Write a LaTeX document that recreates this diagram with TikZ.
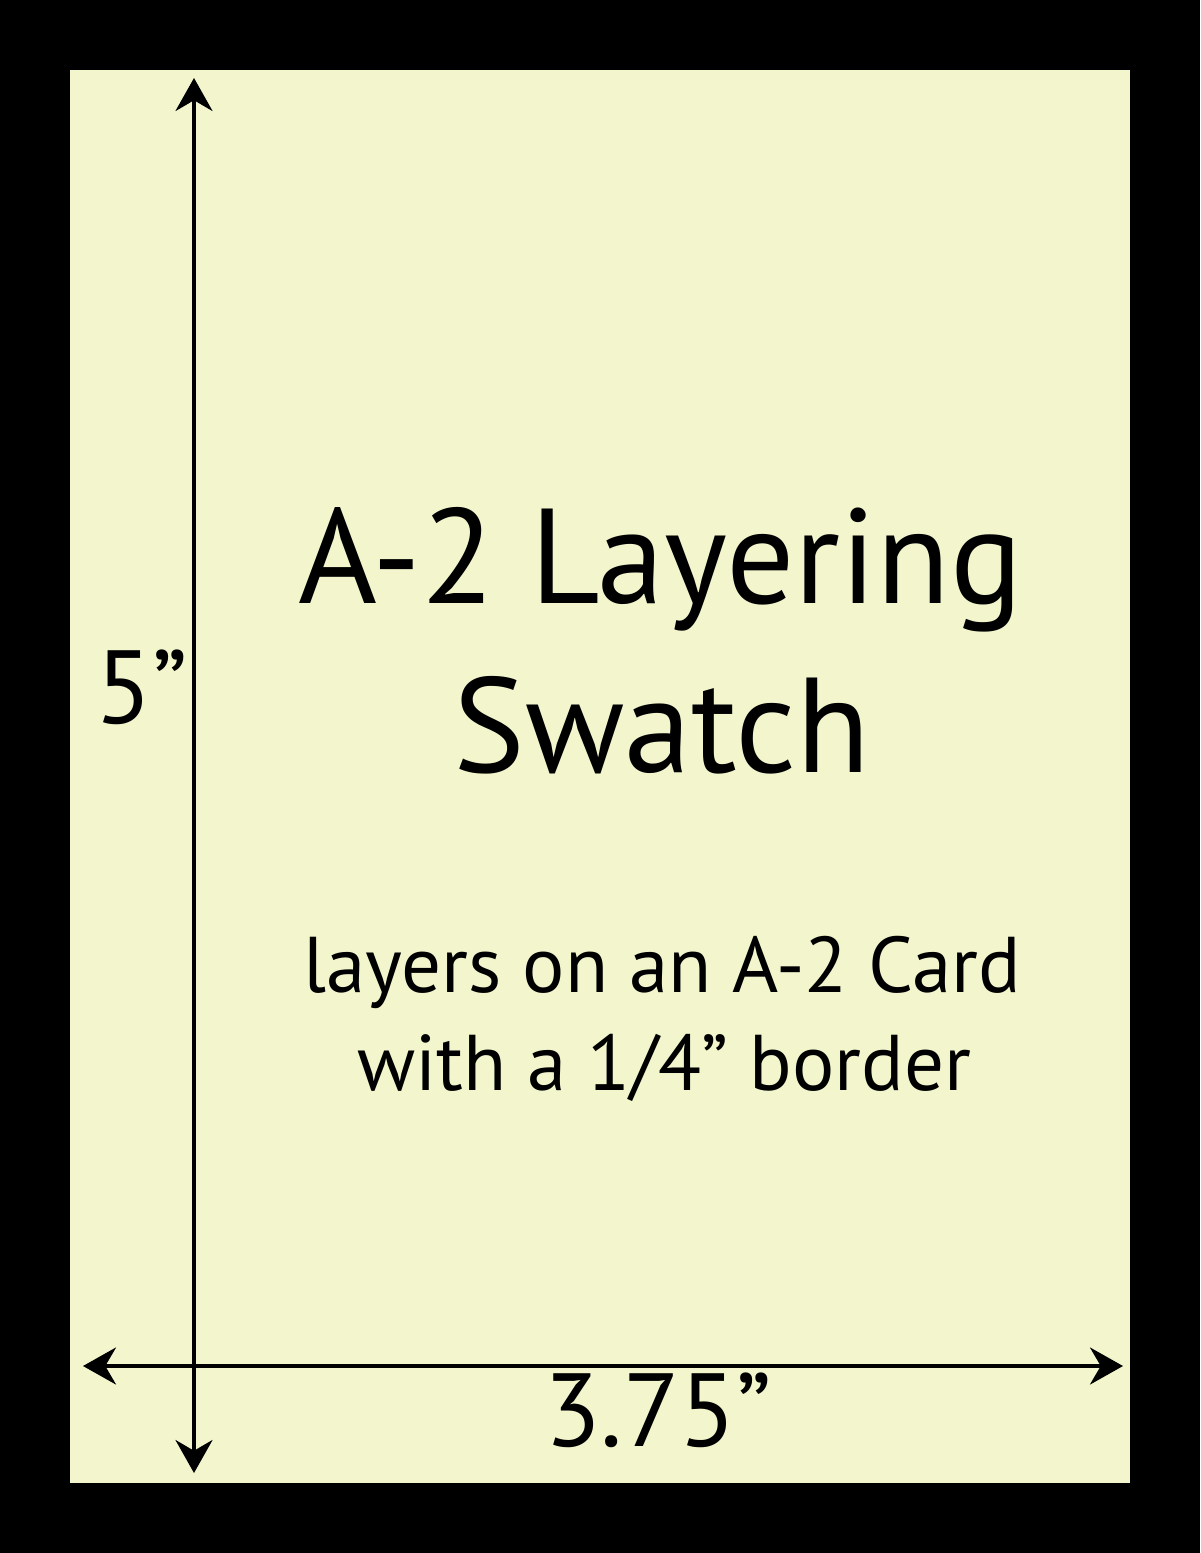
\documentclass[tikz,border=0pt]{standalone}
\usepackage{fontspec}
\setmainfont{PT Sans}
\usepackage{xcolor}
\usepackage{tikz}
\usetikzlibrary{arrows.meta,positioning}
\definecolor{cardyellow}{RGB}{243,246,205}
\tikzset{
	dimline/.style={line width=1.8pt,{Stealth[length=16.5pt,width=18.5pt]}-{Stealth[length=16.5pt,width=18.5pt]}},
	label/.style={inner sep=0pt,anchor=base,text=black}
}

\begin{document}
\begin{tikzpicture}[x=0.5pt,y=-0.5pt]
		\fill[black] (0,0) rectangle (1200,1553);
		\fill[cardyellow] (70,70) rectangle (1130,1483);
		
		\coordinate (htop) at (194,78);
		\coordinate (hbot) at (194,1473);
		\coordinate (wleft) at (83,1366);
		\coordinate (wright) at (1123,1366);
		
		\draw[dimline] (htop) -- (hbot);
		\draw[dimline] (wleft) -- (wright);
		
		\node[label] (title) at (661,603) {\fontsize{67.5pt}{67.5pt}\selectfont A-2 Layering};
		\node[label] (swatch) at (662,772) {\fontsize{67.5pt}{67.5pt}\selectfont Swatch};
		\node[label] (sub1) at (662,992) {\fontsize{39.5pt}{39.5pt}\selectfont layers on an A-2 Card};
		\node[label] (sub2) at (664,1090) {\fontsize{39.5pt}{39.5pt}\selectfont with a 1/4” border};
		\node[label] (width) at (658,1446) {\fontsize{52pt}{52pt}\selectfont 3.75”};
		\node[label] (height) at (142,723) {\fontsize{52pt}{52pt}\selectfont 5”};
\end{tikzpicture}
\end{document}
